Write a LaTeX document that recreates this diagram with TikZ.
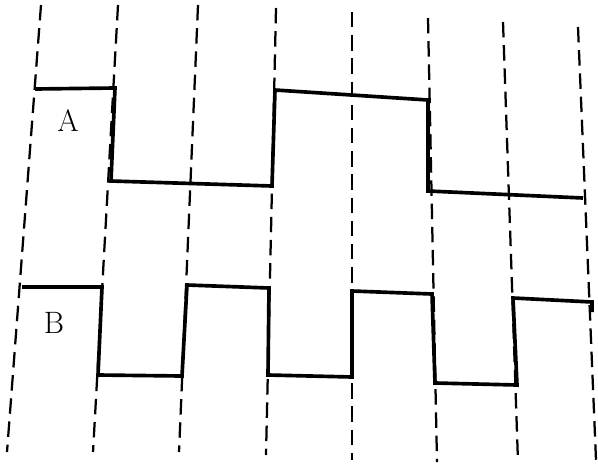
\documentclass[tikz,border=0pt]{standalone}
\begin{document}
\begin{tikzpicture}[x=0.025cm,y=-0.025cm]
        \tikzset{grid line/.style={dash pattern=on 11pt off 5.5pt, line width=1.6pt},
            wave/.style={line width=2.6pt, line join=miter},
            signal label/.style={font=\fontsize{22}{24}\selectfont}}
        \useasboundingbox (0,0) rectangle (598,469);
        % slanted time marks
        \foreach \xt/\yt/\xb/\yb [count=\i] in {41/5/7/452, 118/5/93/452, 198/5/179/452,
                276/8/266/455, 352/12/352/460, 428/18/437/462, 503/22/518/462, 578/27/596/460}
            {\coordinate (top\i) at (\xt,\yt);
             \coordinate (bot\i) at (\xb,\yb);
             \draw[grid line] (top\i) -- (bot\i);}
        % signal A
        \draw[wave] (35,89) -- (115,88) -- (111,181) -- (272,186) -- (275,90)
            -- (428,100) -- (428,191) -- (583,198);
        % signal B
        \draw[wave] (22,287) -- (102,287) -- (98,375) -- (182,376) -- (187,285)
            -- (269,288) -- (268,375) -- (352,377) -- (352,291) -- (432,294)
            -- (435,383) -- (517,385) -- (513,298) -- (592,302) -- (592,312);
        \node[signal label] (labA) at (68,121) {A};
        \node[signal label] (labB) at (54,323) {B};
    \end{tikzpicture}
\end{document}
